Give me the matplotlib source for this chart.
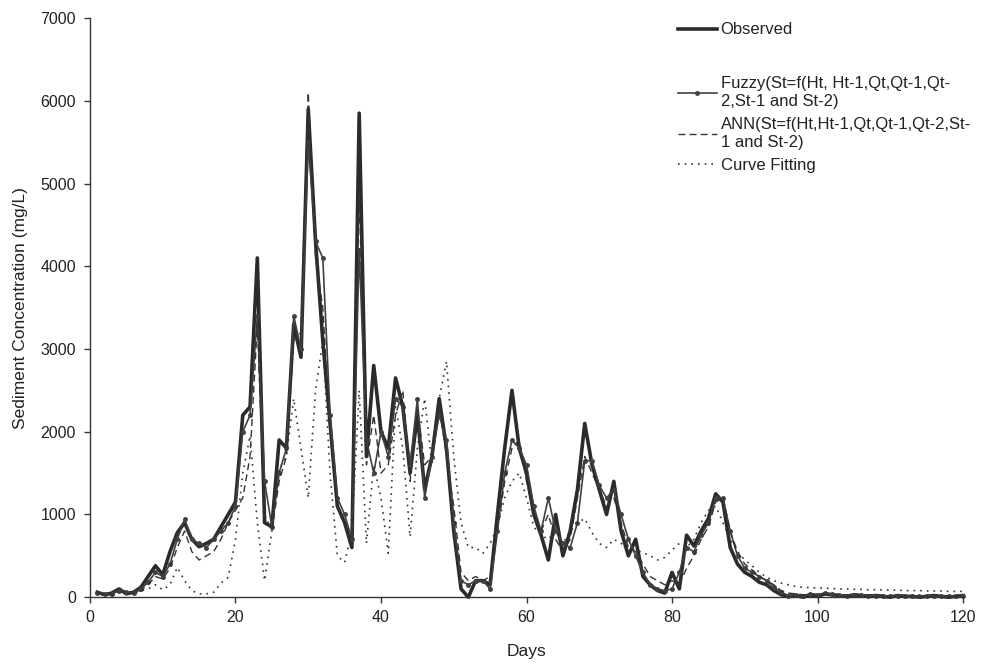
import numpy as np
import matplotlib
matplotlib.use("Agg")
import matplotlib.pyplot as plt

plt.rcParams['font.family'] = ['Liberation Sans', 'DejaVu Sans']

days = np.arange(1, 121)

observed = [60, 30, 50, 100, 40, 60, 120, 250, 380, 270,
            550, 780, 900, 700, 610, 650, 700, 850, 1000, 1150,
            2200, 2300, 4100, 900, 850, 1900, 1800, 3300, 2900, 5900,
            4300, 3100, 2100, 1100, 900, 600, 5850, 1700, 2800, 2000,
            1800, 2650, 2300, 1500, 2200, 1300, 1700, 2400, 1800, 800,
            100, 0, 200, 200, 150, 1000, 1800, 2500, 1800, 1500,
            1000, 750, 450, 1000, 500, 800, 1300, 2100, 1600, 1300,
            1000, 1400, 800, 500, 700, 250, 150, 80, 50, 300,
            100, 750, 620, 800, 950, 1250, 1150, 600, 400, 300,
            250, 180, 150, 80, 30, 10,
            20, 0, 30, 10, 40, 30, 20, 10, 30, 20, 10, 20,
            10, 0, 20, 10, 10, 0, 10, 20, 10, 0, 10, 20]

fuzzy = [50, 40, 40, 80, 60, 50, 100, 180, 300, 250,
         400, 700, 940, 700, 650, 600, 700, 800, 900, 1100,
         2000, 2200, 3400, 1400, 850, 1500, 1800, 3400, 3000, 5500,
         4300, 4100, 2200, 1200, 1000, 700, 4200, 1900, 1500, 2000,
         1700, 2400, 2300, 1600, 2400, 1200, 1700, 2200, 1900, 900,
         200, 150, 200, 200, 100, 800, 1500, 1900, 1800, 1600,
         1100, 800, 1200, 800, 650, 600, 900, 1650, 1650, 1350,
         1200, 1300, 1000, 700, 500, 300, 150, 100, 80, 100,
         300, 600, 550, 750, 900, 1200, 1200, 800, 500, 350,
         300, 250, 200, 120, 60, 20,
         30, 20, 40, 30, 50, 40, 30, 20, 30, 30, 20, 20,
         20, 10, 20, 20, 10, 10, 20, 20, 10, 10, 20, 20]

ann = [30, 50, 20, 60, 80, 40, 80, 150, 250, 220,
       350, 600, 800, 550, 450, 500, 550, 700, 900, 1050,
       1200, 1700, 3300, 1000, 800, 1400, 1700, 3100, 3200, 6100,
       4100, 3500, 2000, 1100, 900, 700, 4900, 1600, 2200, 1500,
       1600, 2200, 2500, 1400, 2300, 1600, 1700, 2300, 1700, 1100,
       300, 200, 250, 200, 250, 800, 1400, 1800, 1900, 1400,
       1000, 800, 1000, 700, 550, 700, 1200, 1700, 1500, 1300,
       1100, 1200, 900, 600, 550, 400, 250, 200, 150, 200,
       150, 350, 500, 700, 850, 1150, 1200, 800, 550, 400,
       330, 250, 200, 150, 80, 50,
       40, 30, 30, 40, 40, 30, 30, 30, 20, 30, 30, 20,
       20, 20, 20, 20, 20, 10, 20, 20, 20, 10, 20, 20]

curve_fit = [60, 30, 40, 70, 60, 50, 80, 100, 150, 90,
             150, 360, 200, 80, 40, 40, 60, 170, 240, 700,
             1500, 1950, 900, 200, 800, 1550, 1700, 2400, 1800, 1200,
             2500, 3100, 1500, 500, 420, 800, 2500, 650, 1600, 1200,
             530, 2300, 1800, 730, 1800, 2400, 1600, 2400, 2850, 1700,
             900, 600, 600, 530, 650, 850, 1200, 1400, 1500, 1200,
             850, 750, 700, 800, 650, 800, 900, 950, 780, 650,
             600, 700, 650, 600, 570, 540, 500, 450, 480, 570,
             650, 600, 700, 900, 1050, 1100, 900, 700, 550, 450,
             380, 300, 240, 200, 170, 150,
             130, 120, 115, 110, 110, 105, 100, 100, 95, 95, 90, 90,
             90, 85, 85, 80, 80, 80, 75, 75, 75, 70, 70, 70]

labels = ["Observed",
          "Fuzzy(St=f(Ht, Ht-1,Qt,Qt-1,Qt-\n2,St-1 and St-2)",
          "ANN(St=f(Ht,Ht-1,Qt,Qt-1,Qt-2,St-\n1 and St-2)",
          "Curve Fitting"]

fig = plt.figure(figsize=(9.91, 6.68), dpi=100)
ax = fig.add_axes([0.0908, 0.106, 0.881, 0.867])

l_obs, = ax.plot(days, observed, color="#2b2b2b", lw=2.6, label=labels[0],
                 clip_on=False)
l_fz, = ax.plot(days, fuzzy, color="#404040", lw=1.2, marker="o", ms=2.5,
                label=labels[1], clip_on=False)
l_ann, = ax.plot(days, ann, color="#333333", lw=1.0, ls=(0, (5, 3)),
                 label=labels[2], clip_on=False)
l_cf, = ax.plot(days, curve_fit, color="#333333", lw=1.2, ls=(0, (1, 3)),
                label=labels[3], clip_on=False)

ax.set_xlim(0, 120)
ax.set_ylim(0, 7000)
ax.set_xticks(range(0, 121, 20))
ax.set_yticks(range(0, 7001, 1000))
ax.spines["top"].set_visible(False)
ax.spines["right"].set_visible(False)
for s in ("left", "bottom"):
    ax.spines[s].set_color("#333333")
    ax.spines[s].set_linewidth(1.0)
ax.tick_params(axis="both", direction="out", length=4, width=1,
               color="#333333", labelsize=11.5, labelcolor="#222222")
ax.tick_params(axis="x", pad=5)
ax.tick_params(axis="y", pad=6)

ax.set_xlabel("Days", fontsize=12.5, color="#222222", labelpad=14)
ax.set_ylabel("Sediment Concentration (mg/L)", fontsize=12.5,
              color="#222222", labelpad=9)

leg_kw = dict(loc="upper left", bbox_transform=fig.transFigure, frameon=False,
              fontsize=12, handlelength=2.3, handletextpad=0.25,
              labelspacing=0.5, borderpad=0)
leg1 = ax.legend(handles=[l_obs], bbox_to_anchor=(0.676, 0.979), **leg_kw)
for t in leg1.get_texts():
    t.set_color("#222222")
ax.add_artist(leg1)
leg2 = ax.legend(handles=[l_fz, l_ann, l_cf], bbox_to_anchor=(0.676, 0.898),
                 **leg_kw)
for t in leg2.get_texts():
    t.set_color("#222222")
    t.set_linespacing(1.2)

fig.savefig("out.png", dpi=100)
